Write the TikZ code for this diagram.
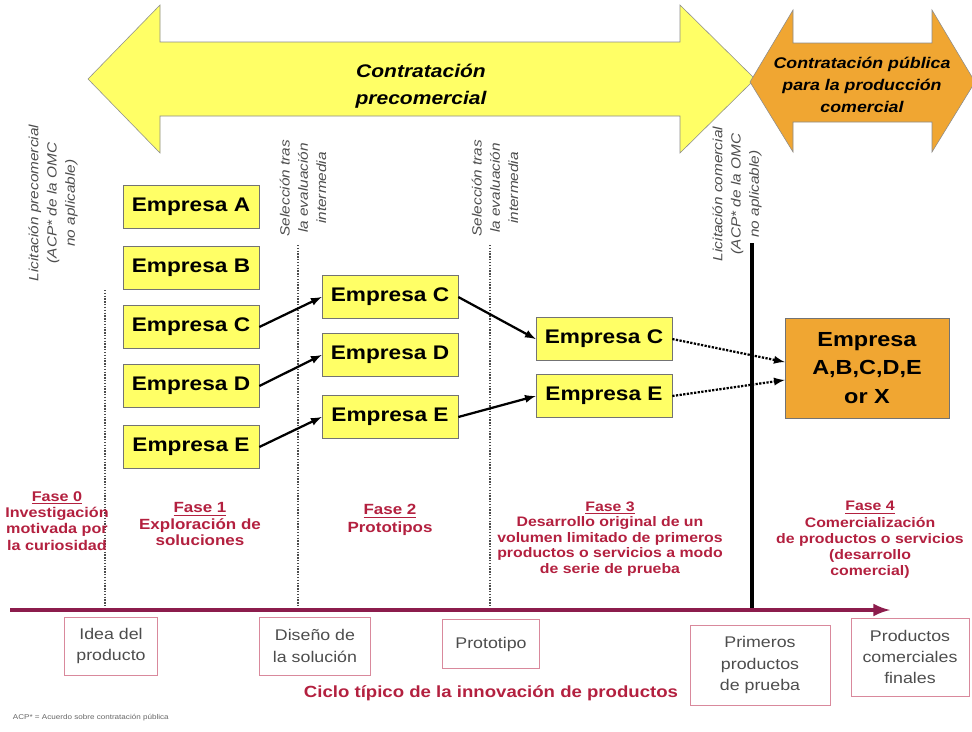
\documentclass[tikz,border=0pt]{standalone}
\usepackage{fontspec}
\setmainfont{Liberation Sans}[FakeStretch=1.15]
\usepackage{tikz}
\definecolor{amarillo}{HTML}{FFFF66}
\definecolor{naranja}{HTML}{F0A632}
\definecolor{granate}{HTML}{8C1C4C}
\definecolor{rojofase}{HTML}{B3203F}
\definecolor{rosa}{HTML}{D9899C}
\definecolor{gristexto}{HTML}{4D4D4D}
\tikzstyle{empresa}=[draw=black!55,fill=amarillo,minimum width=3.4cm,minimum height=1.07cm,font=\fontsize{14}{16}\selectfont\bfseries]
\tikzstyle{etapa}=[draw=rosa,text=gristexto,align=center,inner sep=1pt,font=\fontsize{11}{15}\selectfont]
\tikzstyle{fase}=[text=rojofase,align=center]
\tikzstyle{girado}=[rotate=90,align=center,text=gristexto,font=\fontsize{9.5}{13}\selectfont\itshape]
\tikzstyle{flecha}=[-latex,line width=1.6pt]
\tikzstyle{punteada}=[-latex,line width=1.6pt,densely dotted]
\tikzstyle{separador}=[densely dotted,line width=1pt,black!70]

\begin{document}
\begin{tikzpicture}[x=0.025cm,y=-0.025cm]
        \useasboundingbox (0,0) rectangle (972,731);
        \draw[draw=black!45,fill=amarillo] (88,79) -- (160,5) -- (160,42) -- (680,42) -- (680,5) -- (755,79)
          -- (680,153) -- (680,116) -- (160,116) -- (160,153) -- cycle;
        \node[font=\fontsize{13}{19}\selectfont\bfseries\itshape,align=center] (precom) at (421,86) {Contratación\\precomercial};
        \draw[draw=black!45,fill=naranja] (750,82) -- (793,10) -- (793,43) -- (932,43) -- (932,10) -- (975,82)
          -- (932,152) -- (932,122) -- (793,122) -- (793,152) -- cycle;
        \node[font=\fontsize{11}{15.5}\selectfont\bfseries\itshape,align=center] (comercial) at (862,85) {Contratación pública\\para la producción\\comercial};

        \node[girado] (lic0) at (53,203) {Licitación precomercial\\(ACP* de la OMC\\no aplicable)};
        \node[girado] (sel1) at (303,188) {Selección tras\\la evaluación\\intermedia};
        \node[girado] (sel2) at (495,188) {Selección tras\\la evaluación\\intermedia};
        \node[girado] (lic3) at (737,194) {Licitación comercial\\(ACP* de la OMC\\no aplicable)};

        \draw[separador] (105,290) -- (105,610);
        \draw[separador] (298,245) -- (298,610);
        \draw[separador] (490,245) -- (490,610);
        \draw[line width=2.2pt] (752,243) -- (752,610);

        \foreach \l/\y in {A/207,B/268,C/327,D/386,E/447}{
          \node[empresa] (e1\l) at (191,\y) {Empresa \l};
        }
        \foreach \l/\y in {C/297,D/355,E/417}{
          \node[empresa] (e2\l) at (390,\y) {Empresa \l};
        }
        \foreach \l/\y in {C/339,E/396}{
          \node[empresa] (e3\l) at (604,\y) {Empresa \l};
        }
        \node[draw=black!55,fill=naranja,minimum width=4.1cm,minimum height=2.5cm,align=center,
          font=\fontsize{14.5}{20}\selectfont\bfseries] (final) at (867,368) {Empresa\\A,B,C,D,E\\or X};

        \draw[flecha] (e1C.east) -- (e2C.west);
        \draw[flecha] (e1D.east) -- (e2D.west);
        \draw[flecha] (e1E.east) -- (e2E.west);
        \draw[flecha] (e2C.east) -- (e3C.west);
        \draw[flecha] (e2E.east) -- (e3E.west);
        \draw[punteada] (e3C.east) -- ([yshift=0.15cm]final.west);
        \draw[punteada] (e3E.east) -- ([yshift=-0.3cm]final.west);

        \node[fase,font=\fontsize{10}{11.5}\selectfont\bfseries] (f0) at (57,521) {\underline{Fase 0}\\Investigación\\motivada por\\la curiosidad};
        \node[fase,font=\fontsize{10.5}{11.5}\selectfont\bfseries] (f1) at (200,524) {\underline{Fase 1}\\Exploración de\\soluciones};
        \node[fase,font=\fontsize{10.5}{12.5}\selectfont\bfseries] (f2) at (390,520) {\underline{Fase 2}\\Prototipos};
        \node[fase,font=\fontsize{9.8}{11}\selectfont\bfseries] (f3) at (610,539) {\underline{Fase 3}\\Desarrollo original de un\\volumen limitado de primeros\\productos o servicios a modo\\de serie de prueba};
        \node[fase,font=\fontsize{9.8}{11.5}\selectfont\bfseries] (f4) at (870,540) {\underline{Fase 4}\\Comercialización\\de productos o servicios\\(desarrollo\\comercial)};

        \coordinate (ini) at (10,610);
        \coordinate (fin) at (890,610);
        \draw[granate,line width=3pt,-latex] (ini) -- (fin);

        \node[etapa,minimum width=2.33cm,minimum height=1.45cm] (idea) at (111,646) {Idea del\\producto};
        \node[etapa,minimum width=2.78cm,minimum height=1.45cm] (diseno) at (315,646) {Diseño de\\la solución};
        \node[etapa,minimum width=2.43cm,minimum height=1.23cm] (proto) at (491,644) {Prototipo};
        \node[etapa,minimum width=3.5cm,minimum height=2cm] (primeros) at (760,665) {Primeros\\productos\\de prueba};
        \node[etapa,minimum width=2.95cm,minimum height=1.95cm] (finales) at (910,657) {Productos\\comerciales\\finales};

        \node[text=rojofase,font=\fontsize{11.5}{13}\selectfont\bfseries] (ciclo) at (491,693) {Ciclo típico de la innovación de productos};
        \node[anchor=west,text=black!60,font=\fontsize{5}{6}\selectfont] (nota) at (8,718) {ACP* = Acuerdo sobre contratación pública};
      \end{tikzpicture}
\end{document}
